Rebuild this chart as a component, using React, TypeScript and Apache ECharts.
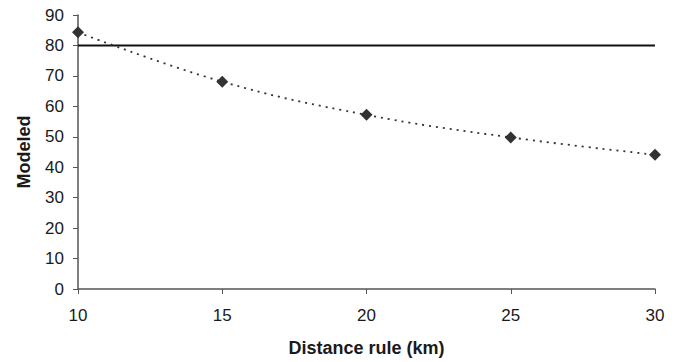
import React, { useEffect, useRef } from "react";
import * as echarts from "echarts";

const distances = [10, 15, 20, 25, 30];
const modeled = [84.3, 68.1, 57.2, 49.8, 44.1];
const threshold = 80;
const xTicks = [10, 15, 20, 25, 30];

export default function App() {
  const ref = useRef<HTMLDivElement>(null);
  useEffect(() => {
    const chart = echarts.init(ref.current!, null, { renderer: "svg" });
    const pts = distances.map((d, i) => [d, modeled[i]]);
    chart.setOption({
      animation: false,
      textStyle: { fontFamily: "Liberation Sans, Arial, sans-serif" },
      grid: { left: 78, right: 26, top: 15, bottom: 72 },
      xAxis: {
        type: "value",
        min: xTicks[0],
        max: xTicks[xTicks.length - 1],
        interval: 5,
        name: "Distance rule (km)",
        nameLocation: "middle",
        nameGap: 50,
        nameTextStyle: { fontSize: 18, fontWeight: "bold", color: "#1a1a1a" },
        axisLine: { show: true, lineStyle: { color: "#555", width: 1.5 } },
        axisTick: { show: true, length: 5, lineStyle: { color: "#555" } },
        axisLabel: { fontSize: 17, color: "#1a1a1a", margin: 18 },
        splitLine: { show: false },
      },
      yAxis: {
        type: "value",
        min: 0,
        max: 90,
        interval: 10,
        name: "Modeled",
        nameLocation: "middle",
        nameGap: 45,
        nameRotate: 90,
        nameTextStyle: { fontSize: 18, fontWeight: "bold", color: "#1a1a1a" },
        axisLine: { show: true, lineStyle: { color: "#555", width: 1.5 } },
        axisTick: { show: true, length: 5, lineStyle: { color: "#555" } },
        axisLabel: { fontSize: 17, color: "#1a1a1a", margin: 14 },
        splitLine: { show: false },
      },
      series: [
        {
          type: "line",
          data: [
            [distances[0], threshold],
            [distances[distances.length - 1], threshold],
          ],
          symbol: "none",
          lineStyle: { color: "#111", width: 2 },
          z: 2,
        },
        {
          type: "line",
          data: pts,
          smooth: 0.4,
          symbol: "diamond",
          symbolSize: 12,
          itemStyle: { color: "#333" },
          lineStyle: { color: "#333", width: 1.8, type: [2, 5] },
          z: 3,
        },
      ],
    });
    return () => chart.dispose();
  }, []);
  return (
    <div
      ref={ref}
      style={{ position: "absolute", left: 0, top: 0, width: 681, height: 362, background: "#fff" }}
    />
  );
}
